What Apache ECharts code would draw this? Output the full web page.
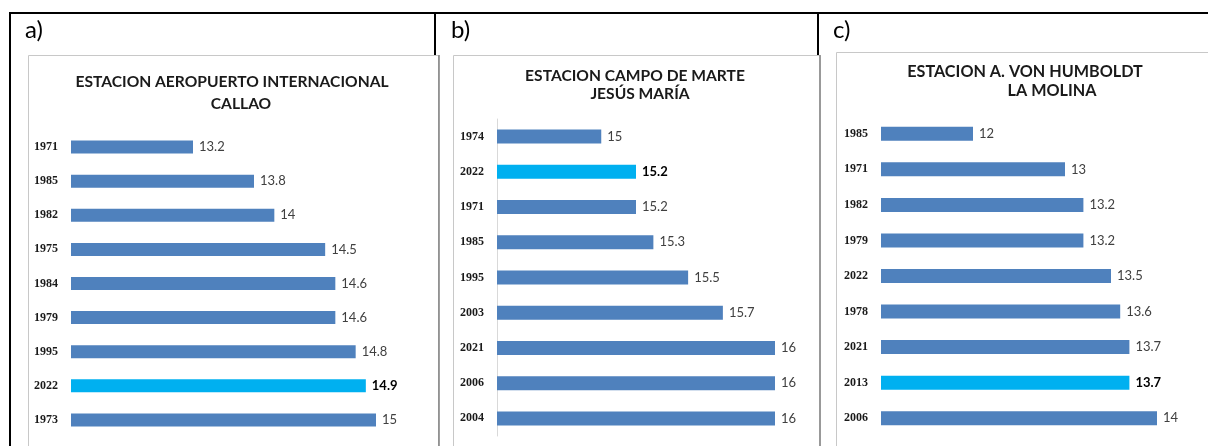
<!DOCTYPE html>
<html>
<head>
<meta charset="utf-8">
<script src="https://cdn.jsdelivr.net/npm/echarts@6/dist/echarts.min.js"></script>
<style>
  html, body { margin: 0; padding: 0; background: #fff; }
  #chart { width: 1208px; height: 446px; }
</style>
</head>
<body>
<div id="chart"></div>
<script>
// a) Estacion Aeropuerto Internacional - Callao
var yearsA = ['1971', '1985', '1982', '1975', '1984', '1979', '1995', '2022', '1973'];
var valuesA = [13.2, 13.8, 14, 14.5, 14.6, 14.6, 14.8, 14.9, 15];
var highlightA = '2022';

// b) Estacion Campo de Marte - Jesus Maria
var yearsB = ['1974', '2022', '1971', '1985', '1995', '2003', '2021', '2006', '2004'];
var valuesB = [15, 15.2, 15.2, 15.3, 15.5, 15.7, 16, 16, 16];
var highlightB = '2022';

// c) Estacion A. von Humboldt - La Molina
var yearsC = ['1985', '1971', '1982', '1979', '2022', '1978', '2021', '2013', '2006'];
var valuesC = [12, 13, 13.2, 13.2, 13.5, 13.6, 13.7, 13.7, 14];
var highlightC = '2013';

var panelLetters = ['a)', 'b)', 'c)'];
var titlesA = ['ESTACION AEROPUERTO INTERNACIONAL', 'CALLAO'];
var titlesB = ['ESTACION CAMPO DE MARTE', 'JESÚS MARÍA'];
var titlesC = ['ESTACION A. VON HUMBOLDT', 'LA MOLINA'];

var BLUE = '#4F81BD';
var CYAN = '#00B0F0';

function barData(years, values, hl) {
  return values.map(function (v, i) {
    var isHl = years[i] === hl;
    return {
      value: v,
      itemStyle: { color: isHl ? CYAN : BLUE },
      label: isHl ? { fontWeight: 'bold', color: '#000' } : undefined
    };
  });
}

function yAxisFor(idx, years, showLine) {
  return {
    type: 'category',
    gridIndex: idx,
    inverse: true,
    data: years,
    axisTick: { show: false },
    axisLine: { show: showLine, lineStyle: { color: '#d9d9d9', width: 1 } },
    axisLabel: {
      margin: 13,
      fontFamily: 'Liberation Serif',
      fontWeight: 'bold',
      fontSize: 12,
      color: '#1a1a1a'
    }
  };
}

function xAxisFor(idx, min, max) {
  return {
    type: 'value',
    gridIndex: idx,
    min: min,
    max: max,
    show: false,
    splitLine: { show: false }
  };
}

function seriesFor(idx, years, values, hl, bw) {
  return {
    type: 'bar',
    xAxisIndex: idx,
    yAxisIndex: idx,
    barWidth: bw,
    data: barData(years, values, hl),
    label: {
      show: true,
      position: 'right',
      distance: 6,
      fontFamily: 'Lato',
      fontSize: 13,
      color: '#404040'
    },
    silent: true
  };
}

function titleLine(text, cx, cy, size) {
  return {
    text: text,
    left: cx,
    top: cy - 10,
    textAlign: 'center',
    padding: 0,
    textStyle: {
      fontFamily: 'Lato',
      fontWeight: 'bold',
      fontSize: size,
      lineHeight: 20,
      color: '#1a1a1a'
    }
  };
}

function letter(text, x) {
  return {
    type: 'text',
    left: x,
    top: 18,
    style: { text: text, fontFamily: 'Lato', fontSize: 24, fill: '#000' }
  };
}

var chart = echarts.init(document.getElementById('chart'));

chart.setOption({
  backgroundColor: '#fff',
  animation: false,
  title: [
    titleLine(titlesA[0], 232, 82, 15.6),
    titleLine(titlesA[1], 241, 104, 15.6),
    titleLine(titlesB[0], 635, 76, 15.6),
    titleLine(titlesB[1], 640, 94, 15.6),
    titleLine(titlesC[0], 1025, 72, 16.2),
    titleLine(titlesC[1], 1052, 91, 16.2)
  ],
  grid: [
    { left: 71, top: 130, width: 305, height: 307, outerBoundsMode: 'none' },
    { left: 497, top: 119, width: 278, height: 317, outerBoundsMode: 'none' },
    { left: 881, top: 116, width: 276, height: 320, outerBoundsMode: 'none' }
  ],
  xAxis: [
    xAxisFor(0, 12, 15),
    xAxisFor(1, 14.4, 16),
    xAxisFor(2, 11, 14)
  ],
  yAxis: [
    yAxisFor(0, yearsA, false),
    yAxisFor(1, yearsB, true),
    yAxisFor(2, yearsC, false)
  ],
  series: [
    seriesFor(0, yearsA, valuesA, highlightA, 13),
    seriesFor(1, yearsB, valuesB, highlightB, 14),
    seriesFor(2, yearsC, valuesC, highlightC, 14)
  ],
  graphic: [
    // chart frames
    { type: 'rect', z: -10, shape: { x: 28.5, y: 55.5, width: 410, height: 400 },
      style: { fill: '#fff', stroke: '#c8c8c8', lineWidth: 1 } },
    { type: 'rect', z: -10, shape: { x: 453.5, y: 55.5, width: 366.5, height: 400 },
      style: { fill: '#fff', stroke: '#c8c8c8', lineWidth: 1 } },
    { type: 'rect', z: -10, shape: { x: 836.5, y: 52.5, width: 400, height: 400 },
      style: { fill: '#fff', stroke: '#c8c8c8', lineWidth: 1 } },
    // table borders
    { type: 'line', z: -5, shape: { x1: 9, y1: 13, x2: 1208, y2: 13 },
      style: { stroke: '#000', lineWidth: 2 } },
    { type: 'line', z: -5, shape: { x1: 10, y1: 12, x2: 10, y2: 446 },
      style: { stroke: '#000', lineWidth: 2 } },
    { type: 'line', z: -5, shape: { x1: 435, y1: 12, x2: 435, y2: 55 },
      style: { stroke: '#000', lineWidth: 2 } },
    { type: 'line', z: -5, shape: { x1: 818, y1: 12, x2: 818, y2: 55 },
      style: { stroke: '#000', lineWidth: 2 } },
    { type: 'line', z: -5, shape: { x1: 439, y1: 55, x2: 439, y2: 446 },
      style: { stroke: '#808080', lineWidth: 1.5 } },
    { type: 'line', z: -5, shape: { x1: 820, y1: 55, x2: 820, y2: 446 },
      style: { stroke: '#808080', lineWidth: 1.5 } },
    letter(panelLetters[0], 25),
    letter(panelLetters[1], 451),
    letter(panelLetters[2], 833)
  ]
});
</script>
</body>
</html>
